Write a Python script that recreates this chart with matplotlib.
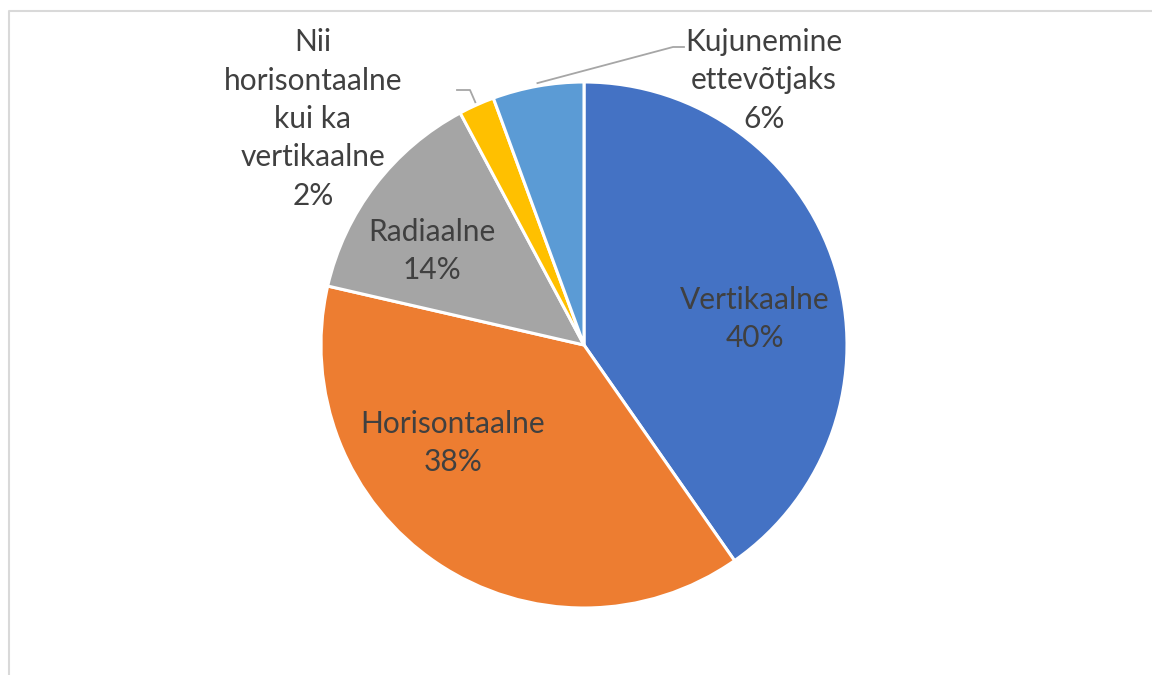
import matplotlib
matplotlib.use("Agg")
import matplotlib.pyplot as plt
import numpy as np

categories = ["Vertikaalne", "Horisontaalne", "Radiaalne",
              "Nii\nhorisontaalne\nkui ka\nvertikaalne", "Kujunemine\nettevõtjaks"]
values = [40.3, 38.3, 13.6, 2.2, 5.6]
colors = ["#4472C4", "#ED7D31", "#A5A5A5", "#FFC000", "#5B9BD5"]

W, H = 1152, 675
fig = plt.figure(figsize=(W / 100, H / 100), dpi=100)
ax = fig.add_axes([0, 0, 1, 1])
ax.set_xlim(0, W)
ax.set_ylim(0, H)
ax.axis("off")

# chart border (light gray)
ax.plot([8.5, 8.5, W + 5], [-5, H - 10.5, H - 10.5], color="#D9D9D9", lw=1.5,
        solid_capstyle="butt")

cx, cy, R = 584, H - 345, 263
wedges, _ = ax.pie(values, colors=colors, startangle=90, counterclock=False,
                   center=(cx, cy), radius=R,
                   wedgeprops=dict(edgecolor="white", linewidth=2.2))
ax.set_xlim(0, W)
ax.set_ylim(0, H)
ax.set_aspect("equal")

txtc = "#404040"
font = dict(family=["Lato", "DejaVu Sans"], fontsize=21.5, color=txtc,
            ha="center", va="center", linespacing=1.45)

total = sum(values)
pct = [f"{v / total * 100:.0f}%" for v in values]

inside = {0: (755, 319), 1: (453, 443), 2: (432, 251)}
for i, (px, py) in inside.items():
    ax.text(px, H - py, f"{categories[i]}\n{pct[i]}", **font)

# outside labels with leader lines
ax.text(313, H - 119, f"{categories[3]}\n{pct[3]}", **font)
ax.text(764, H - 80.5, f"{categories[4]}\n{pct[4]}", **font)

def edge_point(i, r):
    w = wedges[i]
    th = np.deg2rad((w.theta1 + w.theta2) / 2)
    return cx + r * np.cos(th), cy + r * np.sin(th)

lc = "#A6A6A6"
x0, y0 = edge_point(3, R + 3)
ax.plot([x0, 470, 457], [y0, H - 90, H - 90], color=lc, lw=1.3)
x1, y1 = edge_point(4, R + 3)
ax.plot([x1, 673, 684], [y1, H - 47, H - 47], color=lc, lw=1.3)

fig.savefig("out.png", dpi=100, facecolor="white")
